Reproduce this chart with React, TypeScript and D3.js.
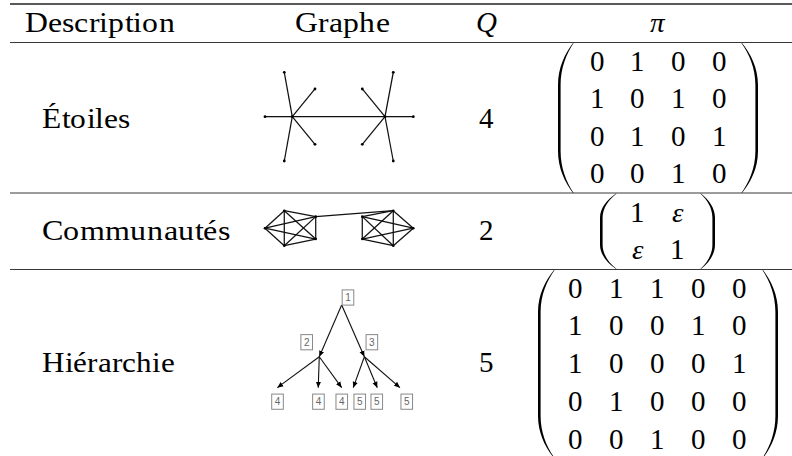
import React from 'react';
import * as d3 from 'd3';

// Table content
const HEADERS = ['Description', 'Graphe', 'Q', 'π'];
const ROW_LABELS = ['Étoiles', 'Communautés', 'Hiérarchie'];
const Q_VALUES = ['4', '2', '5'];

const PI_STARS = [
  ['0', '1', '0', '0'],
  ['1', '0', '1', '0'],
  ['0', '1', '0', '1'],
  ['0', '0', '1', '0'],
];
const PI_COMMUNITIES = [
  ['1', 'ε'],
  ['ε', '1'],
];
const PI_HIERARCHY = [
  ['0', '1', '1', '0', '0'],
  ['1', '0', '0', '1', '0'],
  ['1', '0', '0', '0', '1'],
  ['0', '1', '0', '0', '0'],
  ['0', '0', '1', '0', '0'],
];

// Graph layouts (normalised 0..100 layout units)
const STAR_LAYOUT = [
  [18.4, 50], [80.9, 50],
  [0, 50], [13, 0], [33.7, 18.8], [33.7, 81.2], [13, 100],
  [100, 50], [86.5, 0], [65.6, 18.8], [65.6, 81.2], [86.5, 100],
];
const STAR_EDGES = [
  [0, 1],
  [0, 2], [0, 3], [0, 4], [0, 5], [0, 6],
  [1, 7], [1, 8], [1, 9], [1, 10], [1, 11],
];

const COMM_LAYOUT = [
  [0, 50], [13, 0], [34.2, 17], [34.2, 81], [13, 100],
  [100, 50], [86.5, 0], [65.6, 17], [65.6, 81], [86.5, 100],
];
const COMM_GROUPS = [[0, 1, 2, 3, 4], [5, 6, 7, 8, 9]];
const COMM_BRIDGE = [[2, 6]];

const TREE_LABELS = ['1', '2', '3', '4', '4', '4', '5', '5', '5'];
const TREE_LAYOUT = [
  [51.7, 12.5],
  [36.6, 55.6], [67, 55.6],
  [8.3, 81.4], [35.9, 81.4], [51.7, 81.4],
  [59.5, 81.4], [75.7, 81.4], [91, 81.4],
];
const TREE_LABEL_OFFSET = [
  [6.3, -7.5],
  [-12.6, -14.5], [7.5, -14.5],
  [0.2, 14], [0.2, 14], [0.1, 14],
  [6.5, 14], [-0.5, 14], [6.8, 14],
];
const TREE_EDGES = [[0, 1], [0, 2], [1, 3], [1, 4], [1, 5], [2, 6], [2, 7], [2, 8]];

const W = 792;
const H = 456;
const SERIF = 'TabSerif, "Liberation Serif", Tinos, "Times New Roman", serif';

const CSS = `
@font-face { font-family: TabSerif; font-style: normal; src: local("Liberation Serif"), local("LiberationSerif"), local("LiberationSerif-Regular"); }
@font-face { font-family: TabSerif; font-style: italic; src: local("Liberation Serif Italic"), local("LiberationSerif-Italic"); }
`;

// big parenthesis as a filled crescent
function parenPath(x0, tx, top, bot, t) {
  const h = Math.min((bot - top) * 0.32, 42);
  const s = Math.sign(tx - x0);
  const cx = tx + (x0 - tx) * 0.55;
  const xi = x0 + s * t;
  const ti = tx + s * 0.6;
  const cxi = ti + (xi - ti) * 0.55;
  const p = d3.path();
  p.moveTo(tx, top);
  p.bezierCurveTo(cx, top + h * 0.25, x0, top + h * 0.6, x0, top + h);
  p.lineTo(x0, bot - h);
  p.bezierCurveTo(x0, bot - h * 0.6, cx, bot - h * 0.25, tx, bot);
  p.lineTo(ti, bot);
  p.bezierCurveTo(cxi, bot - h * 0.25, xi, bot - h * 0.6, xi, bot - h);
  p.lineTo(xi, top + h);
  p.bezierCurveTo(xi, top + h * 0.6, cxi, top + h * 0.25, ti, top);
  p.closePath();
  return p.toString();
}

const Matrix = ({ cells, cols, rows, left, right, span }) => {
  const x = d3.scalePoint().domain(d3.range(cells[0].length)).range(cols);
  const y = d3.scalePoint().domain(d3.range(cells.length)).range(rows);
  return (
    <g>
      <path d={parenPath(left[0], left[1], span[0], span[1], 2.6)} fill="#000" />
      <path d={parenPath(right[0], right[1], span[0], span[1], 2.6)} fill="#000" />
      {cells.map((row, i) =>
        row.map((v, j) => (
          <text
            key={i + '-' + j}
            x={x(j)}
            y={y(i)}
            textAnchor="middle"
            fontFamily={SERIF}
            fontSize={29}
            fontStyle={v === 'ε' ? 'italic' : undefined}
          >
            {v}
          </text>
        ))
      )}
    </g>
  );
};

const App = () => {
  // graph column scales
  const gx = d3.scaleLinear().domain([0, 100]).range([265, 413.3]);
  const starY = d3.scaleLinear().domain([0, 100]).range([72.3, 161]);
  const commY = d3.scaleLinear().domain([0, 100]).range([210.7, 245.7]);
  const treeY = d3.scaleLinear().domain([0, 100]).range([290, 410]);

  const commEdges = [];
  COMM_GROUPS.forEach((g) => {
    g.forEach((a, i) => g.slice(i + 1).forEach((b) => commEdges.push([a, b])));
  });
  COMM_BRIDGE.forEach((e) => commEdges.push(e));

  const rules = [
    { y: 4, w: 1.3 },
    { y: 42.5, w: 0.9 },
    { y: 193, w: 0.9 },
    { y: 269.5, w: 0.9 },
  ];

  const headerX = [25, 295];
  const headerLen = [150, 95];
  const labelBase = [127.5, 240, 372];
  const labelLen = [88, 188, 133];

  return (
    <svg width={W} height={H} style={{ position: 'absolute', left: 0, top: 0 }} fontFamily={SERIF}>
      <style>{CSS}</style>
      <defs>
        <marker id="arrow" markerUnits="userSpaceOnUse" markerWidth={7} markerHeight={6} refX={6} refY={3} orient="auto">
          <path d="M0,0.4 L6,3 L0,5.6 Z" fill="#000" />
        </marker>
      </defs>

      {rules.map((r, i) => (
        <line key={i} x1={10} x2={W} y1={r.y} y2={r.y} stroke="#222" strokeWidth={r.w} />
      ))}

      {HEADERS.slice(0, 2).map((h, i) => (
        <text key={h} x={headerX[i]} y={32} fontFamily={SERIF} fontSize={29} textLength={headerLen[i]} lengthAdjust="spacingAndGlyphs">
          {h}
        </text>
      ))}
      <text x={486} y={32} fontFamily={SERIF} fontSize={29} fontStyle="italic" textAnchor="middle">
        {HEADERS[2]}
      </text>
      <text x={657} y={32} fontFamily={SERIF} fontSize={29} fontStyle="italic" textAnchor="middle">
        {HEADERS[3]}
      </text>

      {ROW_LABELS.map((l, i) => (
        <text key={l} x={42} y={labelBase[i]} fontFamily={SERIF} fontSize={29} textLength={labelLen[i]} lengthAdjust="spacingAndGlyphs">
          {l}
        </text>
      ))}

      {Q_VALUES.map((q, i) => (
        <text key={i} x={486} y={labelBase[i]} textAnchor="middle" fontFamily={SERIF} fontSize={29}>
          {q}
        </text>
      ))}

      {/* Étoiles */}
      <g stroke="#111" strokeWidth={1.25}>
        {STAR_EDGES.map(([a, b], i) => (
          <line
            key={i}
            x1={gx(STAR_LAYOUT[a][0])}
            y1={starY(STAR_LAYOUT[a][1])}
            x2={gx(STAR_LAYOUT[b][0])}
            y2={starY(STAR_LAYOUT[b][1])}
          />
        ))}
      </g>
      {STAR_LAYOUT.map(([px, py], i) => (
        <circle key={i} cx={gx(px)} cy={starY(py)} r={1.4} fill="#000" />
      ))}

      {/* Communautés */}
      <g stroke="#111" strokeWidth={1.25}>
        {commEdges.map(([a, b], i) => (
          <line
            key={i}
            x1={gx(COMM_LAYOUT[a][0])}
            y1={commY(COMM_LAYOUT[a][1])}
            x2={gx(COMM_LAYOUT[b][0])}
            y2={commY(COMM_LAYOUT[b][1])}
          />
        ))}
      </g>
      {COMM_LAYOUT.map(([px, py], i) => (
        <circle key={i} cx={gx(px)} cy={commY(py)} r={1.3} fill="#000" />
      ))}

      {/* Hiérarchie */}
      <g stroke="#111" strokeWidth={1.1}>
        {TREE_EDGES.map(([a, b], i) => (
          <line
            key={i}
            x1={gx(TREE_LAYOUT[a][0])}
            y1={treeY(TREE_LAYOUT[a][1])}
            x2={gx(TREE_LAYOUT[b][0])}
            y2={treeY(TREE_LAYOUT[b][1])}
            markerEnd="url(#arrow)"
          />
        ))}
      </g>
      {TREE_LABELS.map((lab, i) => {
        const cx = gx(TREE_LAYOUT[i][0]) + TREE_LABEL_OFFSET[i][0];
        const cy = treeY(TREE_LAYOUT[i][1]) + TREE_LABEL_OFFSET[i][1];
        return (
          <g key={i}>
            <rect x={cx - 5.8} y={cy - 7.6} width={11.6} height={15.2} fill="#fff" stroke="#888" strokeWidth={1} />
            <text x={cx} y={cy + 3.6} textAnchor="middle" fontFamily='"Liberation Sans", Arial, sans-serif' fontSize={10} fill="#666">
              {lab}
            </text>
          </g>
        );
      })}

      {/* π matrices */}
      <Matrix cells={PI_STARS} cols={[597, 719]} rows={[70.7, 183]} left={[558, 573]} right={[758, 742]} span={[43, 193]} />
      <Matrix cells={PI_COMMUNITIES} cols={[637, 677]} rows={[221.7, 259]} left={[600, 616]} right={[715, 701]} span={[193.5, 269]} />
      <Matrix cells={PI_HIERARCHY} cols={[575, 739]} rows={[297.7, 448.7]} left={[538, 554]} right={[778, 763]} span={[270, 458]} />
    </svg>
  );
};

export default App;
